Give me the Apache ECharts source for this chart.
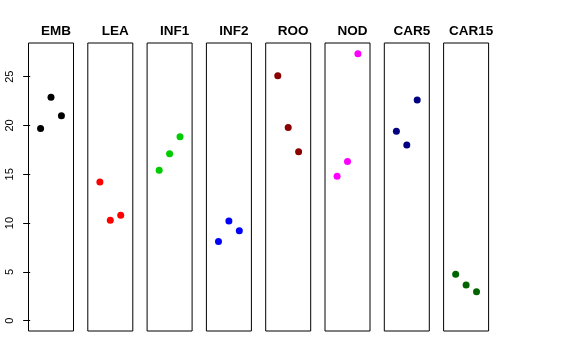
<!DOCTYPE html>
<html><head><meta charset="utf-8">
<script src="https://cdn.jsdelivr.net/npm/echarts@6/dist/echarts.min.js"></script>
<style>html,body{margin:0;padding:0;background:#fff}#c{width:576px;height:360px}</style>
</head><body><div id="c"></div>
<script>
const panels = ['EMB','LEA','INF1','INF2','ROO','NOD','CAR5','CAR15'];
const colors = ['#000000','#FF0000','#00CD00','#0000FF','#8B0000','#FF00FF','#000080','#006400'];
const xPos = [1, 2, 3];
const EMB = [19.7, 22.9, 21.0];
const LEA = [14.2, 10.3, 10.8];
const INF1 = [15.4, 17.1, 18.85];
const INF2 = [8.1, 10.2, 9.2];
const ROO = [25.1, 19.8, 17.3];
const NOD = [14.8, 16.3, 27.35];
const CAR5 = [19.4, 18.0, 22.6];
const CAR15 = [4.75, 3.65, 2.95];
const values = [EMB, LEA, INF1, INF2, ROO, NOD, CAR5, CAR15];
const yTicks = [0, 5, 10, 15, 20, 25];

const chart = echarts.init(document.getElementById('c'), null, {renderer:'canvas'});
const grids = [], xAxes = [], yAxes = [], series = [], titles = [];
const gLeft0 = 28.5, gStep = 59.3, gW = 45, gTop = 43, gH = 288;
panels.forEach((p, i) => {
  const l = gLeft0 + i * gStep;
  grids.push({left: l, top: gTop, width: gW, height: gH, show: true, borderColor: '#000', borderWidth: 1, backgroundColor: 'transparent'});
  xAxes.push({type: 'value', gridIndex: i, min: -0.16, max: 4.16, show: false});
  yAxes.push({
    type: 'value', gridIndex: i, min: -1.06, max: 28.45, show: i === 0,
    splitLine: {show: false},
    axisLine: {show: false},
    axisTick: {show: true, length: 7, customValues: yTicks, lineStyle: {color: '#000', width: 1}},
    axisLabel: {show: true, rotate: 90, customValues: yTicks, margin: 13, color: '#000', fontSize: 11, fontFamily: 'Liberation Sans, Arial, sans-serif'}
  });
  series.push({
    type: 'scatter', xAxisIndex: i, yAxisIndex: i, symbol: 'circle', symbolSize: 7,
    itemStyle: {color: colors[i], opacity: 1}, silent: true,
    data: xPos.map((x, k) => [x, values[i][k]])
  });
  titles.push({text: p, left: l + gW / 2, top: 19, textAlign: 'center',
    textStyle: {fontSize: 13.5, fontWeight: 'bold', color: '#000', fontFamily: 'Liberation Sans, Arial, sans-serif'}});
});
chart.setOption({
  animation: false,
  title: titles,
  grid: grids,
  xAxis: xAxes,
  yAxis: yAxes,
  series: series
});
</script></body></html>
